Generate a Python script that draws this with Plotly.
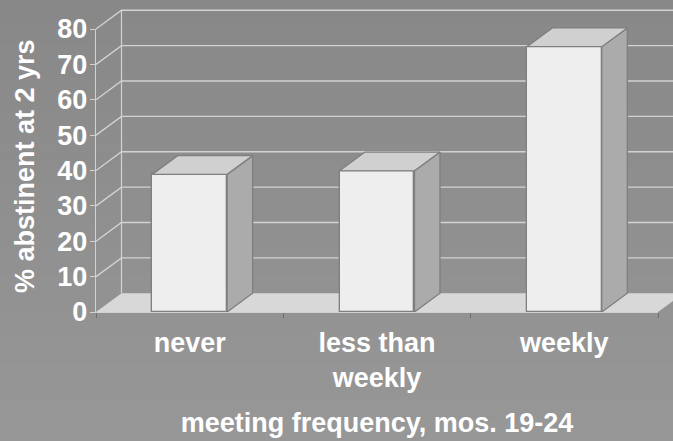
import plotly.graph_objects as go

categories = ["never", "less than<br>weekly", "weekly"]
positions = [0, 1, 2]
values = [38.9, 39.9, 75]
y_ticks = [0, 10, 20, 30, 40, 50, 60, 70, 80]
boundaries = [-0.5, 0.5, 1.5, 2.5]

W, H = 673, 441
L, B = 96, 129                 # plot area reaches the page's top and right edges
AX_W, AX_H = 562, 283          # size of the front axes inside it
XMIN, XMAX, YMIN, YMAX = -0.5, 2.5, 0, 80
PW, PH = W - L, H - B
X_UNIT = AX_W / (XMAX - XMIN)
Y_UNIT = AX_H / (YMAX - YMIN)
FULL_X = [XMIN, XMIN + PW / X_UNIT]
FULL_Y = [YMIN, YMIN + PH / Y_UNIT]
DX = 25.5 / X_UNIT
DY = 18.75 / Y_UNIT
BW = 0.4

FONT = "Liberation Sans"
GRID = "#d2d2d2"
EDGE = "#7f7f7f"
FS = 27

fig = go.Figure()

# floor
fig.add_trace(go.Scatter(x=[XMIN, XMIN + DX, XMAX + DX, XMAX, XMIN], y=[0, DY, DY, 0, 0],
                         mode="lines", line=dict(width=0), fill="toself", fillcolor="#d8d8d8",
                         hoverinfo="skip", showlegend=False))
# back wall gridlines and side wall diagonals
for t in y_ticks[1:]:
    fig.add_trace(go.Scatter(x=[XMIN, XMIN + DX, XMAX + DX], y=[t, t + DY, t + DY], mode="lines",
                             line=dict(color=GRID, width=1.4), hoverinfo="skip",
                             showlegend=False))
# back wall vertical
fig.add_trace(go.Scatter(x=[XMIN + DX, XMIN + DX], y=[DY, YMAX + DY], mode="lines",
                         line=dict(color=GRID, width=1.2), hoverinfo="skip",
                         showlegend=False))

# bars on an overlaid pair of axes so they sit above the walls
fig.add_trace(go.Bar(x=positions, y=values, width=BW, xaxis="x2", yaxis="y2",
                     marker=dict(color="#eeeeee", line=dict(color=EDGE, width=1.3)),
                     showlegend=False))
for p, v in zip(positions, values):
    r = p + BW / 2
    l = p - BW / 2
    fig.add_trace(go.Scatter(x=[r, r + DX, r + DX, r, r], y=[0, DY, v + DY, v, 0],
                             xaxis="x2", yaxis="y2", mode="lines",
                             line=dict(color=EDGE, width=1.3), fill="toself", fillcolor="#ababab",
                             hoverinfo="skip", showlegend=False))
    fig.add_trace(go.Scatter(x=[l, l + DX, r + DX, r, l], y=[v, v + DY, v + DY, v, v],
                             xaxis="x2", yaxis="y2", mode="lines",
                             line=dict(color=EDGE, width=1.3), fill="toself", fillcolor="#d0d0d0",
                             hoverinfo="skip", showlegend=False))

# transparent markers that bring the visible front axes into being
fig.add_trace(go.Scatter(x=positions, y=values, xaxis="x3", yaxis="y3", mode="markers",
                         marker=dict(opacity=0), hoverinfo="skip", showlegend=False))

# vertical background gradient
TOP, BOT = 0x88, 0x97
N = 40
shapes = []
for i in range(N):
    g = round(TOP + (BOT - TOP) * i / (N - 1))
    shapes.append(dict(type="rect", xref="paper", yref="paper", layer="below",
                       x0=-L / PW, x1=1,
                       y0=(PH - H * (i + 1) / N) / PH - 0.003,
                       y1=(PH - H * i / N) / PH,
                       line=dict(width=0), fillcolor=f"rgb({g},{g},{g})"))

bold = dict(family=FONT, size=FS, color="#ffffff", weight="bold")

fig.update_layout(
    width=W, height=H, margin=dict(l=L, r=0, t=0, b=B, pad=0, autoexpand=False),
    paper_bgcolor="#8f8f8f", plot_bgcolor="rgba(0,0,0,0)", shapes=shapes, bargap=0,
    font=dict(family=FONT, color="#ffffff"),
    xaxis=dict(range=FULL_X, visible=False),
    yaxis=dict(range=FULL_Y, visible=False),
    xaxis2=dict(range=FULL_X, overlaying="x", visible=False),
    yaxis2=dict(range=FULL_Y, overlaying="y", visible=False),
    xaxis3=dict(range=[XMIN, XMAX], domain=[0, AX_W / PW], anchor="y3",
                tickmode="array", tickvals=positions, ticktext=categories,
                ticks="", ticklen=0, ticklabelstandoff=6, showgrid=False, zeroline=False,
                showline=True, linecolor=GRID, linewidth=1.4, tickfont=bold,
                minor=dict(tickmode="array", tickvals=boundaries, ticks="outside", ticklen=5,
                           tickcolor="#6f6f6f", tickwidth=1, showgrid=False),
                title=dict(text="meeting frequency, mos. 19-24", standoff=21, font=bold)),
    yaxis3=dict(range=[YMIN, YMAX], domain=[0, AX_H / PH], anchor="x3",
                tickmode="array", tickvals=y_ticks, ticks="outside", ticklen=5,
                tickcolor=GRID, tickwidth=1.2, showgrid=False, zeroline=False,
                showline=True, linecolor=GRID, linewidth=1.4, ticklabelstandoff=-3,
                tickfont=bold),
    annotations=[dict(text="% abstinent at 2 yrs", textangle=-90, xref="paper", yref="paper",
                      x=(25 - L) / PW, y=(PH - 166) / PH,
                      xanchor="center", yanchor="middle", showarrow=False, font=bold)],
)

fig.write_html("out.html", config=dict(displayModeBar=False),
               post_script="document.body.style.margin='0';document.body.style.background='#8f8f8f';")
